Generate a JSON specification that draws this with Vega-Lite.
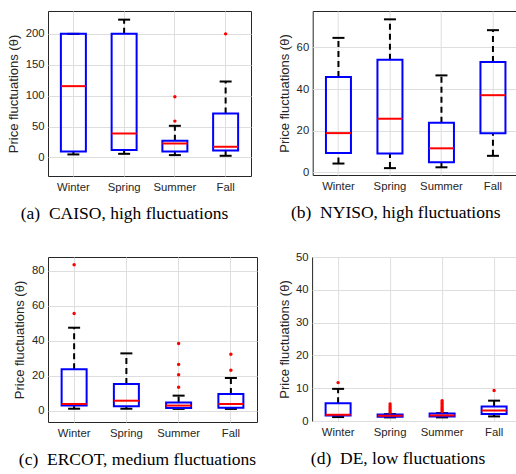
{
  "$schema": "https://vega.github.io/schema/vega-lite/v6.json",
  "description": "Seasonal box plots of price fluctuations in four electricity markets.",
  "padding": {"left": 7, "top": 10, "right": 0, "bottom": 0},
  "datasets": {
    "boxes": [
      {"panel": "a", "season": "Winter", "lw": 4.9, "q1": 9.7, "med": 115.4, "q3": 200, "uw": 200},
      {"panel": "a", "season": "Spring", "lw": 5.9, "q1": 11.9, "med": 38.8, "q3": 200, "uw": 223},
      {"panel": "a", "season": "Summer", "lw": 3.8, "q1": 9.7, "med": 22.6, "q3": 27, "uw": 51.2},
      {"panel": "a", "season": "Fall", "lw": 2.7, "q1": 11.3, "med": 17.3, "q3": 71.2, "uw": 122.9},
      {"panel": "b", "season": "Winter", "lw": 4.3, "q1": 9.4, "med": 18.9, "q3": 45.8, "uw": 64.6},
      {"panel": "b", "season": "Spring", "lw": 2.1, "q1": 9.1, "med": 25.8, "q3": 54.1, "uw": 73.5},
      {"panel": "b", "season": "Summer", "lw": 2.5, "q1": 4.9, "med": 11.6, "q3": 23.9, "uw": 46.6},
      {"panel": "b", "season": "Fall", "lw": 8.0, "q1": 18.8, "med": 37.1, "q3": 53.0, "uw": 68.3},
      {"panel": "c", "season": "Winter", "lw": 1.1, "q1": 2.9, "med": 3.8, "q3": 23.7, "uw": 47.5},
      {"panel": "c", "season": "Spring", "lw": 1.1, "q1": 2.5, "med": 5.7, "q3": 15.3, "uw": 32.8},
      {"panel": "c", "season": "Summer", "lw": 1.0, "q1": 1.5, "med": 2.9, "q3": 4.6, "uw": 8.6},
      {"panel": "c", "season": "Fall", "lw": 1.0, "q1": 1.7, "med": 3.8, "q3": 9.5, "uw": 18.7},
      {"panel": "d", "season": "Winter", "lw": 1.2, "q1": 1.7, "med": 1.9, "q3": 5.4, "uw": 9.8},
      {"panel": "d", "season": "Spring", "lw": 1.1, "q1": 1.3, "med": 1.6, "q3": 2.0, "uw": 2.1},
      {"panel": "d", "season": "Summer", "lw": 1.1, "q1": 1.4, "med": 1.7, "q3": 2.3, "uw": 2.4},
      {"panel": "d", "season": "Fall", "lw": 1.4, "q1": 2.1, "med": 3.2, "q3": 4.4, "uw": 6.2}
    ],
    "outliers": [
      {"panel": "a", "season": "Summer", "value": 98.1},
      {"panel": "a", "season": "Summer", "value": 58.8},
      {"panel": "a", "season": "Fall", "value": 200},
      {"panel": "c", "season": "Winter", "value": 83.6},
      {"panel": "c", "season": "Winter", "value": 55.6},
      {"panel": "c", "season": "Summer", "value": 38.4},
      {"panel": "c", "season": "Summer", "value": 26.5},
      {"panel": "c", "season": "Summer", "value": 20.6},
      {"panel": "c", "season": "Summer", "value": 13.4},
      {"panel": "c", "season": "Fall", "value": 32.3},
      {"panel": "c", "season": "Fall", "value": 23.1},
      {"panel": "d", "season": "Winter", "value": 11.7},
      {"panel": "d", "season": "Spring", "value": 5.2},
      {"panel": "d", "season": "Spring", "value": 4.5},
      {"panel": "d", "season": "Spring", "value": 3.9},
      {"panel": "d", "season": "Spring", "value": 3.3},
      {"panel": "d", "season": "Spring", "value": 2.7},
      {"panel": "d", "season": "Summer", "value": 6.2},
      {"panel": "d", "season": "Summer", "value": 5.6},
      {"panel": "d", "season": "Summer", "value": 5.0},
      {"panel": "d", "season": "Summer", "value": 4.4},
      {"panel": "d", "season": "Summer", "value": 3.9},
      {"panel": "d", "season": "Summer", "value": 3.4},
      {"panel": "d", "season": "Summer", "value": 2.9},
      {"panel": "d", "season": "Fall", "value": 9.3}
    ]
  },
  "spacing": 27,
  "vconcat": [
    {
      "spacing": 25.7,
      "hconcat": [
        {
          "width": 203,
          "height": 165,
          "title": {"text": "(a)\u00a0\u00a0CAISO, high fluctuations", "dx": -25},
          "layer": [
            {
              "data": {"name": "boxes"},
              "transform": [{"filter": "datum.panel === 'a'"}],
              "encoding": {
                "x": {"field": "season", "type": "nominal", "sort": ["Winter", "Spring", "Summer", "Fall"], "scale": {"paddingInner": 0, "paddingOuter": 0}, "axis": {"title": null, "labelAngle": 0, "grid": true}}
              },
              "layer": [
                {"mark": {"type": "rule", "color": "#000000", "strokeWidth": 2, "strokeDash": [6, 4]},
                 "encoding": {"y": {"field": "q3", "type": "quantitative", "scale": {"domain": [-30, 237], "nice": false, "zero": false}, "axis": {"values": [0, 50, 100, 150, 200], "title": "Price fluctuations (θ)"}}, "y2": {"field": "uw"}}},
                {"mark": {"type": "rule", "color": "#000000", "strokeWidth": 2, "strokeDash": [6, 4]},
                 "encoding": {"y": {"field": "lw", "type": "quantitative"}, "y2": {"field": "q1"}}},
                {"mark": {"type": "tick", "color": "#000000", "size": 12, "thickness": 2, "opacity": 1},
                 "encoding": {"y": {"field": "uw", "type": "quantitative"}}},
                {"mark": {"type": "tick", "color": "#000000", "size": 12, "thickness": 2, "opacity": 1},
                 "encoding": {"y": {"field": "lw", "type": "quantitative"}}},
                {"mark": {"type": "bar", "width": 25, "fill": "transparent", "stroke": "#0000ff", "strokeWidth": 2},
                 "encoding": {"y": {"field": "q1", "type": "quantitative"}, "y2": {"field": "q3"}}},
                {"mark": {"type": "tick", "color": "#ff0000", "size": 25, "thickness": 2, "opacity": 1},
                 "encoding": {"y": {"field": "med", "type": "quantitative"}}}
              ]
            },
            {
              "data": {"name": "outliers"},
              "transform": [{"filter": "datum.panel === 'a'"}],
              "mark": {"type": "point", "filled": true, "color": "#ff0000", "size": 12, "opacity": 1},
              "encoding": {
                "x": {"field": "season", "type": "nominal", "sort": ["Winter", "Spring", "Summer", "Fall"]},
                "y": {"field": "value", "type": "quantitative"}
              }
            }
          ]
        },
        {
          "width": 206,
          "height": 164,
          "title": {"text": "(b)\u00a0\u00a0NYISO, high fluctuations", "dx": -20},
          "layer": [
            {
              "data": {"name": "boxes"},
              "transform": [{"filter": "datum.panel === 'b'"}],
              "encoding": {
                "x": {"field": "season", "type": "nominal", "sort": ["Winter", "Spring", "Summer", "Fall"], "scale": {"paddingInner": 0, "paddingOuter": 0}, "axis": {"title": null, "labelAngle": 0, "grid": true}}
              },
              "layer": [
                {"mark": {"type": "rule", "color": "#000000", "strokeWidth": 2, "strokeDash": [6, 4]},
                 "encoding": {"y": {"field": "q3", "type": "quantitative", "scale": {"domain": [-1.2, 77.5], "nice": false, "zero": false}, "axis": {"values": [0, 20, 40, 60], "title": "Price fluctuations (θ)"}}, "y2": {"field": "uw"}}},
                {"mark": {"type": "rule", "color": "#000000", "strokeWidth": 2, "strokeDash": [6, 4]},
                 "encoding": {"y": {"field": "lw", "type": "quantitative"}, "y2": {"field": "q1"}}},
                {"mark": {"type": "tick", "color": "#000000", "size": 12, "thickness": 2, "opacity": 1},
                 "encoding": {"y": {"field": "uw", "type": "quantitative"}}},
                {"mark": {"type": "tick", "color": "#000000", "size": 12, "thickness": 2, "opacity": 1},
                 "encoding": {"y": {"field": "lw", "type": "quantitative"}}},
                {"mark": {"type": "bar", "width": 25, "fill": "transparent", "stroke": "#0000ff", "strokeWidth": 2},
                 "encoding": {"y": {"field": "q1", "type": "quantitative"}, "y2": {"field": "q3"}}},
                {"mark": {"type": "tick", "color": "#ff0000", "size": 25, "thickness": 2, "opacity": 1},
                 "encoding": {"y": {"field": "med", "type": "quantitative"}}}
              ]
            }
          ]
        }
      ]
    },
    {
      "spacing": 19.1,
      "hconcat": [
        {
          "width": 209,
          "height": 165,
          "title": {"text": "(c)\u00a0\u00a0ERCOT, medium fluctuations", "dx": -15},
          "layer": [
            {
              "data": {"name": "boxes"},
              "transform": [{"filter": "datum.panel === 'c'"}],
              "encoding": {
                "x": {"field": "season", "type": "nominal", "sort": ["Winter", "Spring", "Summer", "Fall"], "scale": {"paddingInner": 0, "paddingOuter": 0}, "axis": {"title": null, "labelAngle": 0, "grid": true}}
              },
              "layer": [
                {"mark": {"type": "rule", "color": "#000000", "strokeWidth": 2, "strokeDash": [6, 4]},
                 "encoding": {"y": {"field": "q3", "type": "quantitative", "scale": {"domain": [-6.5, 88], "nice": false, "zero": false}, "axis": {"values": [0, 20, 40, 60, 80], "title": "Price fluctuations (θ)"}}, "y2": {"field": "uw"}}},
                {"mark": {"type": "rule", "color": "#000000", "strokeWidth": 2, "strokeDash": [6, 4]},
                 "encoding": {"y": {"field": "lw", "type": "quantitative"}, "y2": {"field": "q1"}}},
                {"mark": {"type": "tick", "color": "#000000", "size": 12, "thickness": 2, "opacity": 1},
                 "encoding": {"y": {"field": "uw", "type": "quantitative"}}},
                {"mark": {"type": "tick", "color": "#000000", "size": 12, "thickness": 2, "opacity": 1},
                 "encoding": {"y": {"field": "lw", "type": "quantitative"}}},
                {"mark": {"type": "bar", "width": 25, "fill": "transparent", "stroke": "#0000ff", "strokeWidth": 2},
                 "encoding": {"y": {"field": "q1", "type": "quantitative"}, "y2": {"field": "q3"}}},
                {"mark": {"type": "tick", "color": "#ff0000", "size": 25, "thickness": 2, "opacity": 1},
                 "encoding": {"y": {"field": "med", "type": "quantitative"}}}
              ]
            },
            {
              "data": {"name": "outliers"},
              "transform": [{"filter": "datum.panel === 'c'"}],
              "mark": {"type": "point", "filled": true, "color": "#ff0000", "size": 12, "opacity": 1},
              "encoding": {
                "x": {"field": "season", "type": "nominal", "sort": ["Winter", "Spring", "Summer", "Fall"]},
                "y": {"field": "value", "type": "quantitative"}
              }
            }
          ]
        },
        {
          "width": 208,
          "height": 164,
          "title": {"text": "(d)\u00a0\u00a0DE, low fluctuations", "dx": -18},
          "layer": [
            {
              "data": {"name": "boxes"},
              "transform": [{"filter": "datum.panel === 'd'"}],
              "encoding": {
                "x": {"field": "season", "type": "nominal", "sort": ["Winter", "Spring", "Summer", "Fall"], "scale": {"paddingInner": 0, "paddingOuter": 0}, "axis": {"title": null, "labelAngle": 0, "grid": true}}
              },
              "layer": [
                {"mark": {"type": "rule", "color": "#000000", "strokeWidth": 2, "strokeDash": [6, 4]},
                 "encoding": {"y": {"field": "q3", "type": "quantitative", "scale": {"domain": [0, 50], "nice": false, "zero": false}, "axis": {"values": [0, 10, 20, 30, 40, 50], "tickCount": 6, "title": "Price fluctuations (θ)"}}, "y2": {"field": "uw"}}},
                {"mark": {"type": "rule", "color": "#000000", "strokeWidth": 2, "strokeDash": [6, 4]},
                 "encoding": {"y": {"field": "lw", "type": "quantitative", "axis": {"values": [0, 10, 20, 30, 40, 50], "tickCount": 6, "title": "Price fluctuations (θ)"}}, "y2": {"field": "q1"}}},
                {"mark": {"type": "tick", "color": "#000000", "size": 12, "thickness": 2, "opacity": 1},
                 "encoding": {"y": {"field": "uw", "type": "quantitative", "axis": {"values": [0, 10, 20, 30, 40, 50], "tickCount": 6, "title": "Price fluctuations (θ)"}}}},
                {"mark": {"type": "tick", "color": "#000000", "size": 12, "thickness": 2, "opacity": 1},
                 "encoding": {"y": {"field": "lw", "type": "quantitative", "axis": {"values": [0, 10, 20, 30, 40, 50], "tickCount": 6, "title": "Price fluctuations (θ)"}}}},
                {"mark": {"type": "bar", "width": 25, "fill": "transparent", "stroke": "#0000ff", "strokeWidth": 2},
                 "encoding": {"y": {"field": "q1", "type": "quantitative", "axis": {"values": [0, 10, 20, 30, 40, 50], "tickCount": 6, "title": "Price fluctuations (θ)"}}, "y2": {"field": "q3"}}},
                {"mark": {"type": "tick", "color": "#ff0000", "size": 25, "thickness": 2, "opacity": 1},
                 "encoding": {"y": {"field": "med", "type": "quantitative", "axis": {"values": [0, 10, 20, 30, 40, 50], "tickCount": 6, "title": "Price fluctuations (θ)"}}}}
              ]
            },
            {
              "data": {"name": "outliers"},
              "transform": [{"filter": "datum.panel === 'd'"}],
              "mark": {"type": "point", "filled": true, "color": "#ff0000", "size": 12, "opacity": 1},
              "encoding": {
                "x": {"field": "season", "type": "nominal", "sort": ["Winter", "Spring", "Summer", "Fall"]},
                "y": {"field": "value", "type": "quantitative", "axis": {"values": [0, 10, 20, 30, 40, 50], "tickCount": 6, "title": "Price fluctuations (θ)"}}
              }
            }
          ]
        }
      ]
    }
  ],
  "config": {
    "background": "#ffffff",
    "view": {"stroke": "#262626", "strokeWidth": 1},
    "axis": {
      "domain": false,
      "ticks": false,
      "labelOverlap": false,
      "labelFont": "Liberation Sans",
      "labelFontSize": 11.3,
      "labelColor": "#262626",
      "labelPadding": 4,
      "titleFont": "Liberation Sans",
      "titleFontSize": 13,
      "titleFontWeight": "normal",
      "titleColor": "#262626",
      "titlePadding": 4.5,
      "gridColor": "#dedede",
      "gridWidth": 1,
      "gridOpacity": 1
    },
    "axisX": {"labelPadding": 5.5},
    "title": {
      "orient": "bottom",
      "anchor": "middle",
      "frame": "group",
      "font": "Liberation Serif",
      "fontSize": 17.5,
      "fontWeight": "normal",
      "color": "#000000",
      "offset": 12
    }
  }
}
